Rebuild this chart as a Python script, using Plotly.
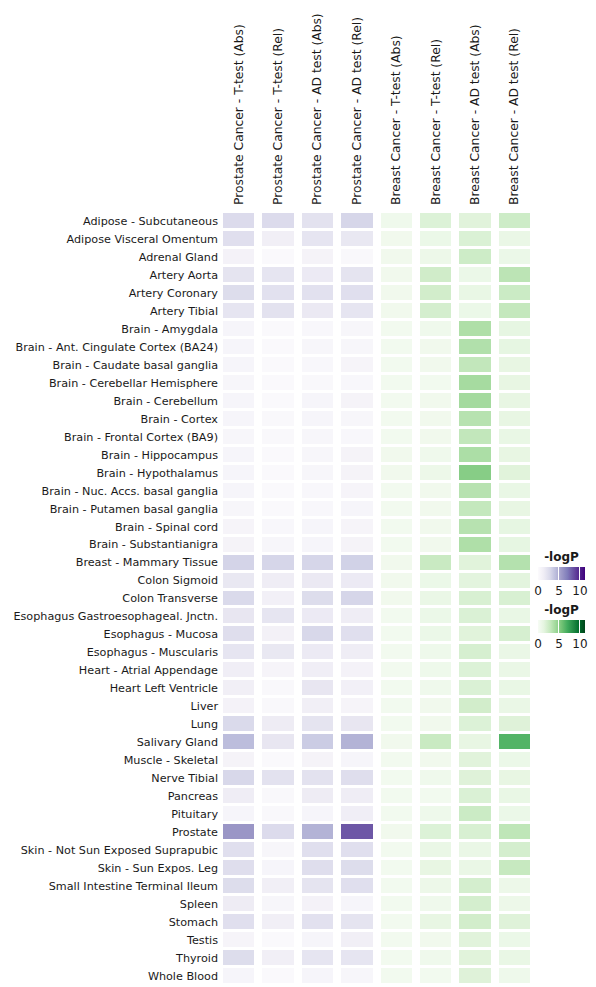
import plotly.graph_objects as go
import plotly.colors as pc

tissues = [
    "Adipose - Subcutaneous", "Adipose Visceral Omentum", "Adrenal Gland",
    "Artery Aorta", "Artery Coronary", "Artery Tibial", "Brain - Amygdala",
    "Brain - Ant. Cingulate Cortex (BA24)", "Brain - Caudate basal ganglia",
    "Brain - Cerebellar Hemisphere", "Brain - Cerebellum", "Brain - Cortex",
    "Brain - Frontal Cortex (BA9)", "Brain - Hippocampus", "Brain - Hypothalamus",
    "Brain - Nuc. Accs. basal ganglia", "Brain - Putamen basal ganglia",
    "Brain - Spinal cord", "Brain - Substantianigra", "Breast - Mammary Tissue",
    "Colon Sigmoid", "Colon Transverse", "Esophagus Gastroesophageal. Jnctn.",
    "Esophagus - Mucosa", "Esophagus - Muscularis", "Heart - Atrial Appendage",
    "Heart Left Ventricle", "Liver", "Lung", "Salivary Gland", "Muscle - Skeletal",
    "Nerve Tibial", "Pancreas", "Pituitary", "Prostate",
    "Skin - Not Sun Exposed Suprapubic", "Skin - Sun Expos. Leg",
    "Small Intestine Terminal Ileum", "Spleen", "Stomach", "Testis", "Thyroid",
    "Whole Blood",
]

prostate_cols = [
    "Prostate Cancer - T-test (Abs)", "Prostate Cancer - T-test (Rel)",
    "Prostate Cancer - AD test (Abs)", "Prostate Cancer - AD test (Rel)",
]
breast_cols = [
    "Breast Cancer - T-test (Abs)", "Breast Cancer - T-test (Rel)",
    "Breast Cancer - AD test (Abs)", "Breast Cancer - AD test (Rel)",
]

# -logP per tissue, columns in the order above
prostate_vals = [
    [2.7, 2.7, 2.2, 3.0], [2.4, 1.2, 2.0, 1.8], [0.9, 0.2, 0.8, 0.3],
    [2.1, 2.0, 1.6, 2.1], [2.6, 2.3, 2.3, 2.4], [2.0, 2.2, 1.7, 2.0],
    [0.6, 0.2, 0.4, 0.5], [0.6, 0.2, 0.5, 0.5], [0.6, 0.2, 0.4, 0.7],
    [0.5, 0.2, 0.3, 0.4], [0.6, 0.2, 0.6, 0.8], [0.6, 0.3, 0.6, 0.5],
    [0.5, 0.3, 0.5, 0.4], [0.6, 0.2, 0.5, 0.8], [0.6, 0.2, 0.5, 0.8],
    [0.6, 0.2, 0.4, 0.7], [0.5, 0.2, 0.4, 0.6], [0.7, 0.4, 0.6, 0.7],
    [0.8, 0.5, 0.6, 0.8], [3.1, 3.0, 3.0, 3.2], [1.8, 1.4, 1.7, 1.6],
    [2.8, 1.1, 2.6, 3.0], [1.9, 2.0, 1.6, 1.4], [2.5, 1.0, 2.9, 2.4],
    [2.0, 1.8, 1.6, 1.4], [1.3, 0.7, 1.3, 0.9], [1.2, 0.3, 1.9, 1.1],
    [0.9, 0.3, 1.2, 0.7], [2.8, 1.5, 2.1, 1.9], [4.2, 1.9, 3.5, 4.6],
    [0.8, 0.2, 0.8, 0.6], [2.9, 2.2, 2.2, 2.5], [1.4, 0.3, 1.5, 1.4],
    [0.6, 0.3, 0.6, 1.3], [5.8, 2.7, 4.6, 8.2], [2.4, 0.5, 2.4, 2.4],
    [2.5, 0.6, 2.5, 2.6], [2.6, 1.2, 2.1, 2.4], [1.5, 0.5, 0.9, 0.6],
    [2.4, 1.2, 2.3, 2.1], [0.7, 0.2, 0.6, 1.2], [2.6, 1.2, 2.0, 2.0],
    [0.6, 0.2, 0.6, 0.5],
]
breast_vals = [
    [0.6, 1.8, 1.6, 2.5], [0.5, 0.9, 1.9, 1.0], [0.5, 0.8, 2.5, 0.9],
    [0.5, 2.4, 0.9, 3.2], [0.5, 2.3, 1.1, 2.6], [0.5, 2.2, 0.9, 2.9],
    [0.4, 0.6, 3.7, 1.3], [0.4, 0.5, 3.6, 1.3], [0.4, 0.5, 3.0, 1.2],
    [0.4, 0.4, 4.0, 1.2], [0.4, 0.5, 4.1, 1.2], [0.4, 0.5, 3.4, 1.2],
    [0.4, 0.5, 3.0, 1.1], [0.5, 0.6, 3.8, 1.2], [0.5, 0.8, 5.0, 1.6],
    [0.4, 0.5, 3.4, 1.1], [0.4, 0.5, 2.9, 1.2], [0.4, 0.5, 3.4, 1.3],
    [0.4, 0.5, 3.7, 1.3], [0.5, 2.7, 1.6, 3.5], [0.5, 0.9, 1.5, 1.5],
    [0.5, 1.0, 2.0, 2.0], [0.4, 0.9, 1.9, 1.1], [0.4, 0.9, 1.6, 2.1],
    [0.4, 0.7, 2.1, 1.0], [0.4, 0.7, 1.8, 1.0], [0.4, 0.6, 1.9, 1.1],
    [0.4, 0.5, 2.3, 1.0], [0.4, 0.5, 1.8, 1.7], [0.5, 2.7, 1.2, 6.5],
    [0.4, 0.5, 1.6, 0.9], [0.4, 0.6, 1.7, 1.2], [0.4, 0.4, 1.9, 1.1],
    [0.4, 0.7, 2.6, 0.9], [0.5, 1.8, 2.0, 3.1], [0.4, 1.0, 1.0, 2.2],
    [0.4, 1.2, 1.0, 2.8], [0.4, 0.8, 2.2, 0.8], [0.4, 0.6, 2.2, 0.8],
    [0.4, 1.2, 2.3, 1.7], [0.4, 0.5, 1.6, 0.9], [0.4, 0.6, 1.6, 1.1],
    [0.4, 0.4, 1.7, 0.7],
]

zmax = 11.2


def colorbar(y):
    return dict(
        orientation="h",
        title=dict(text="<b>-logP</b>", side="top", font=dict(size=12)),
        x=1.0127, xanchor="left", y=y, yanchor="top",
        lenmode="pixels", len=47, thickness=13,
        tickvals=[0, 5, 10], ticks="inside", ticklen=13, tickcolor="white",
        tickfont=dict(size=12), ticklabeloverflow="allow",
        outlinewidth=0, xpad=0, ypad=0,
    )


fig = go.Figure()
fig.add_trace(go.Heatmap(
    z=prostate_vals, x=prostate_cols, y=tissues,
    colorscale=pc.sequential.Purples, zmin=0, zmax=zmax,
    xgap=8, ygap=3, colorbar=colorbar(0.5589),
))
fig.add_trace(go.Heatmap(
    z=breast_vals, x=breast_cols, y=tissues,
    colorscale=pc.sequential.Greens, zmin=0, zmax=zmax,
    xgap=8, ygap=3, colorbar=colorbar(0.4903),
))

fig.update_layout(
    width=596, height=987,
    margin=dict(l=211, r=70, t=204, b=10),
    paper_bgcolor="white", plot_bgcolor="white",
    font=dict(family="DejaVu Sans", size=11.2, color="#1a1a1a"),
    xaxis=dict(side="top", tickangle=-90, showgrid=False, zeroline=False,
               automargin=False, tickfont=dict(size=12.3), ticklabelstandoff=6,
               categoryorder="array", categoryarray=prostate_cols + breast_cols),
    yaxis=dict(autorange="reversed", showgrid=False, zeroline=False,
               automargin=False),
)

fig.write_html("out.html")
